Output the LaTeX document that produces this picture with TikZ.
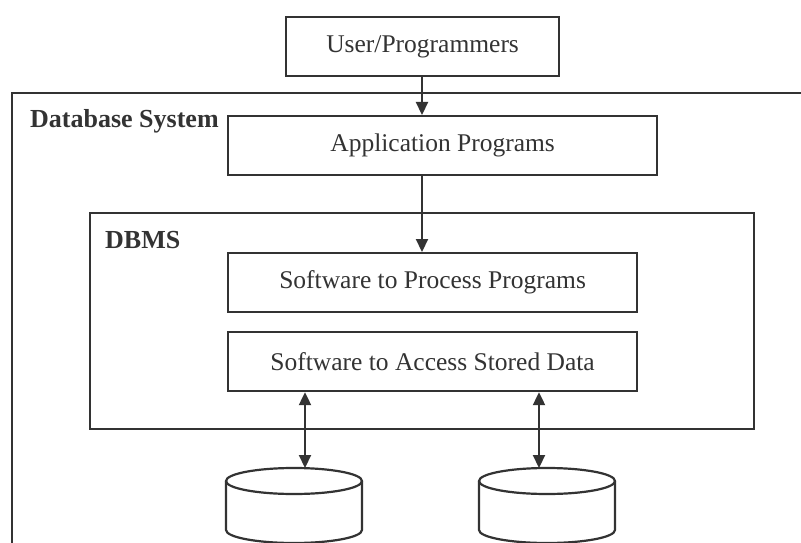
\documentclass[tikz,border=0pt]{standalone}
\usepackage{fontspec}
\setmainfont{Liberation Serif}
\usetikzlibrary{arrows.meta}
\definecolor{ink}{HTML}{333333}
\tikzset{
  tip/.tip={Triangle[length=13pt,width=12pt]},
  blk/.style={draw=ink, line width=2.2pt, rectangle, inner sep=0pt, anchor=north west,
              font=\fontsize{25.5}{28}\selectfont, text=ink},
  lbl/.style={anchor=base west, inner sep=0pt, font=\fontsize{26}{28}\selectfont\bfseries, text=ink},
  flow/.style={draw=ink, line width=2.2pt, -tip},
  both/.style={draw=ink, line width=2.2pt, tip-tip},
  frame/.style={draw=ink, line width=2.2pt},
}
\begin{document}
\begin{tikzpicture}[x=1pt, y=-1pt]
\useasboundingbox (0,0) rectangle (801,543);
\clip (0,0) rectangle (801,543);
\fill[white] (0,0) rectangle (801,543);

% outer frame: the database system (runs off the right and bottom edges)
\draw[frame] (830,93) -- (12,93) -- (12,560);
\node[lbl] (dbsys) at (30,128) {Database System};

% DBMS frame
\draw[frame] (90,213) rectangle (754,429);
\node[lbl] (dbms) at (105,248) {DBMS};

% boxes
\node[blk, minimum width=273pt, minimum height=59pt] (user) at (285,16) {User/Programmers};
\node[blk, minimum width=429pt, minimum height=59pt] (app) at (227,115) {Application Programs};
\node[blk, minimum width=409pt, minimum height=59pt] (proc) at (227,252) {Software to Process Programs};
\node[blk, minimum width=409pt, minimum height=59pt] (acc) at (227,331) {Software to Access Stored Data};

% stored data cylinders
\foreach \cx/\nm in {294/dba, 547/dbb}{
  \draw[frame, fill=white] (\cx-68,481) -- (\cx-68,530)
     arc[start angle=180, end angle=360, x radius=68pt, y radius=13pt]
     -- (\cx+68,481);
  \draw[frame, fill=white] (\cx,481) ellipse[x radius=68pt, y radius=13pt];
  \coordinate (\nm) at (\cx,468);
}

% connectors
\coordinate (ax) at (422,0);
\draw[flow] (user.south -| ax) -- (app.north -| ax);
\draw[flow] (app.south -| ax) -- (proc.north -| ax);
\coordinate (l1) at (305,0);
\coordinate (l2) at (539,0);
\draw[both] (acc.south -| l1) -- (dba -| l1);
\draw[both] (acc.south -| l2) -- (dbb -| l2);
\end{tikzpicture}
\end{document}
